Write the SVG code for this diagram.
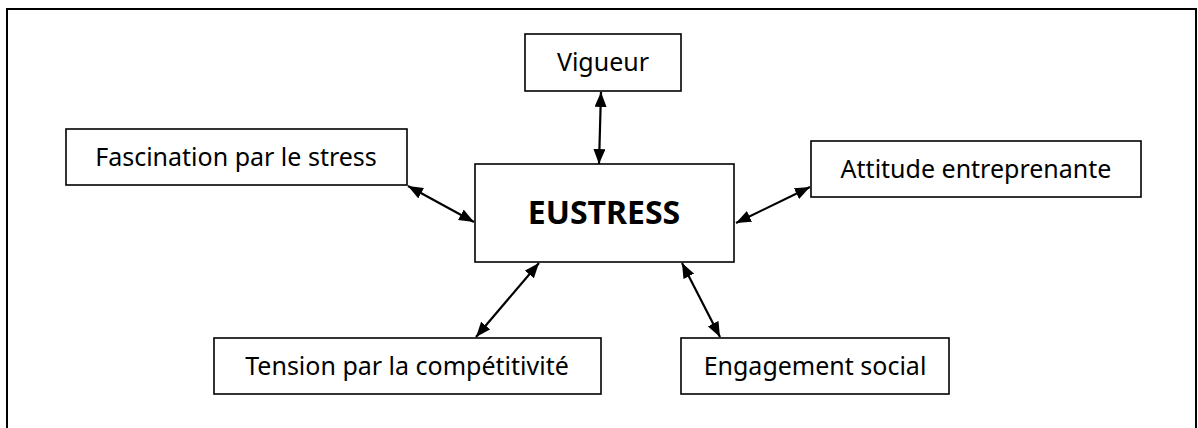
<svg xmlns="http://www.w3.org/2000/svg" width="1198" height="428" viewBox="0 0 1198 428">
  <style>
    .box { fill: #ffffff; stroke: #000000; stroke-width: 1.6; }
    .lbl { font-family: "Noto Sans", "Open Sans", sans-serif; font-size: 25px; fill: #000000; text-anchor: middle; }
    .main { font-family: "Noto Sans", "Open Sans", sans-serif; font-size: 32px; font-weight: bold; fill: #000000; text-anchor: middle; }
    .frame { fill: none; stroke: #000000; stroke-width: 2; }
    .conn { stroke: #000000; stroke-width: 2.2; fill: none; marker-start: url(#ah); marker-end: url(#ah); }
  </style>
  <defs>
    <marker id="ah" viewBox="0 0 15 12" refX="15" refY="6" markerWidth="15" markerHeight="12" markerUnits="userSpaceOnUse" orient="auto-start-reverse">
      <path d="M0,0 L15,6 L0,12 z" fill="#000000"/>
    </marker>
  </defs>
  <rect width="1198" height="428" fill="#ffffff"/>
  <path class="frame" d="M7,430 L7,9 L1196,9 L1196,430"/>

  <g id="connectors">
    <line class="conn" x1="601" y1="92" x2="599" y2="164"/>
    <line class="conn" x1="408" y1="186" x2="474" y2="222"/>
    <line class="conn" x1="736" y1="223" x2="810" y2="187"/>
    <line class="conn" x1="539" y1="263" x2="476" y2="337"/>
    <line class="conn" x1="682" y1="263" x2="720" y2="337"/>
  </g>

  <g id="vigueur">
    <rect class="box" x="525" y="34" width="156" height="57"/>
    <text class="lbl" x="603" y="71">Vigueur</text>
  </g>
  <g id="fascination">
    <rect class="box" x="66" y="129" width="341" height="56"/>
    <text class="lbl" x="236" y="166">Fascination par le stress</text>
  </g>
  <g id="eustress">
    <rect class="box" x="475" y="164" width="259" height="98"/>
    <text class="main" x="604" y="224">EUSTRESS</text>
  </g>
  <g id="attitude">
    <rect class="box" x="811" y="141" width="330" height="56"/>
    <text class="lbl" x="976" y="178">Attitude entreprenante</text>
  </g>
  <g id="tension">
    <rect class="box" x="214" y="338" width="387" height="56"/>
    <text class="lbl" x="407" y="375">Tension par la compétitivité</text>
  </g>
  <g id="engagement">
    <rect class="box" x="681" y="338" width="268" height="56"/>
    <text class="lbl" x="815" y="375">Engagement social</text>
  </g>
</svg>
